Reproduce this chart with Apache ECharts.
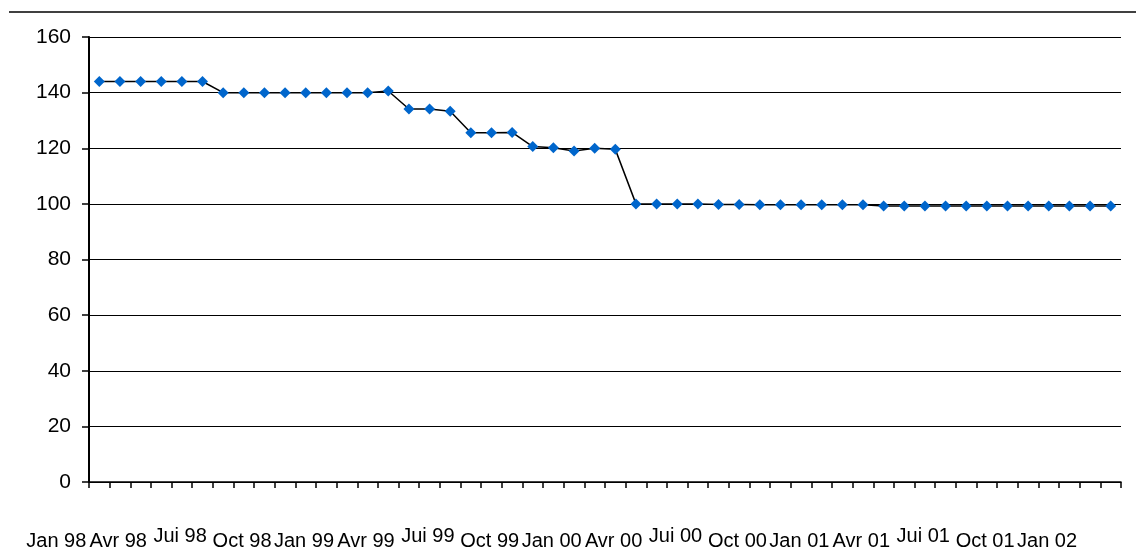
<!DOCTYPE html>
<html>
<head>
<meta charset="utf-8">
<script src="https://cdn.jsdelivr.net/npm/echarts@6/dist/echarts.min.js"></script>
<style>
html,body{margin:0;padding:0;background:#fff;}
#c{width:1136px;height:551px;}
</style>
</head>
<body>
<div id="c"></div>
<script>
var categories = [
  'Jan 98','Fév 98','Mar 98','Avr 98','Mai 98','Juin 98','Jui 98','Aoû 98','Sep 98','Oct 98','Nov 98','Déc 98',
  'Jan 99','Fév 99','Mar 99','Avr 99','Mai 99','Juin 99','Jui 99','Aoû 99','Sep 99','Oct 99','Nov 99','Déc 99',
  'Jan 00','Fév 00','Mar 00','Avr 00','Mai 00','Juin 00','Jui 00','Aoû 00','Sep 00','Oct 00','Nov 00','Déc 00',
  'Jan 01','Fév 01','Mar 01','Avr 01','Mai 01','Juin 01','Jui 01','Aoû 01','Sep 01','Oct 01','Nov 01','Déc 01',
  'Jan 02','Fév 02'
];
var values = [
  144, 144, 144, 144, 144, 144,
  140, 140, 140, 140, 140, 140, 140, 140, 140.6,
  134.1, 134.1, 133.3,
  125.6, 125.6, 125.7,
  120.6, 120.2, 119.0, 120.0, 119.6,
  100, 100, 100, 100, 99.8, 99.8, 99.7, 99.7, 99.7, 99.7, 99.7, 99.7,
  99.2, 99.2, 99.2, 99.2, 99.2, 99.2, 99.2, 99.2, 99.2, 99.2, 99.2, 99.2
];
var yTicks = { min: 0, max: 160, interval: 20 };

var labelFont = 'Liberation Sans, Arial, sans-serif';

var chart = echarts.init(document.getElementById('c'), null, { renderer: 'canvas' });
chart.setOption({
  animation: false,
  backgroundColor: '#fff',
  graphic: [{
    type: 'line',
    shape: { x1: 9, y1: 12, x2: 1136, y2: 12 },
    style: { stroke: '#000', lineWidth: 1.5 }
  }],
  grid: { left: 89, right: 15, top: 37, bottom: 60, containLabel: false },
  xAxis: {
    type: 'category',
    data: categories,
    boundaryGap: true,
    axisLine: { lineStyle: { color: '#000', width: 1.5 } },
    axisTick: { show: true, interval: 0, length: 6, lineStyle: { color: '#000', width: 1.5 } },
    axisLabel: {
      interval: 2,
      margin: 59,
      verticalAlign: 'middle',
      padding: [0, 86, 0, 0],
      fontFamily: labelFont,
      fontSize: 20,
      color: '#000',
      formatter: function (v) {
        if (v.indexOf('Jui ') === 0) return '{u|' + v + '}';
        return '{n|' + v + '}';
      },
      rich: {
        n: { fontFamily: labelFont, fontSize: 20, color: '#000', padding: [0, 0, 0, 0] },
        u: { fontFamily: labelFont, fontSize: 20, color: '#000', padding: [0, 0, 9, 0] }
      }
    },
    splitLine: { show: false }
  },
  yAxis: {
    type: 'value',
    min: yTicks.min,
    max: yTicks.max,
    interval: yTicks.interval,
    axisLine: { show: true, lineStyle: { color: '#000', width: 2 } },
    axisTick: { show: true, inside: false, length: 7, lineStyle: { color: '#000', width: 1.5 } },
    axisLabel: {
      margin: 18,
      fontFamily: labelFont,
      fontSize: 21,
      color: '#000'
    },
    splitLine: { show: true, lineStyle: { color: '#000', width: 1 } }
  },
  series: [{
    type: 'line',
    data: values,
    symbol: 'diamond',
    symbolSize: [11, 11],
    showAllSymbol: true,
    lineStyle: { color: '#000', width: 1.5 },
    itemStyle: { color: '#0066CC', borderWidth: 0 }
  }]
});
</script>
</body>
</html>
